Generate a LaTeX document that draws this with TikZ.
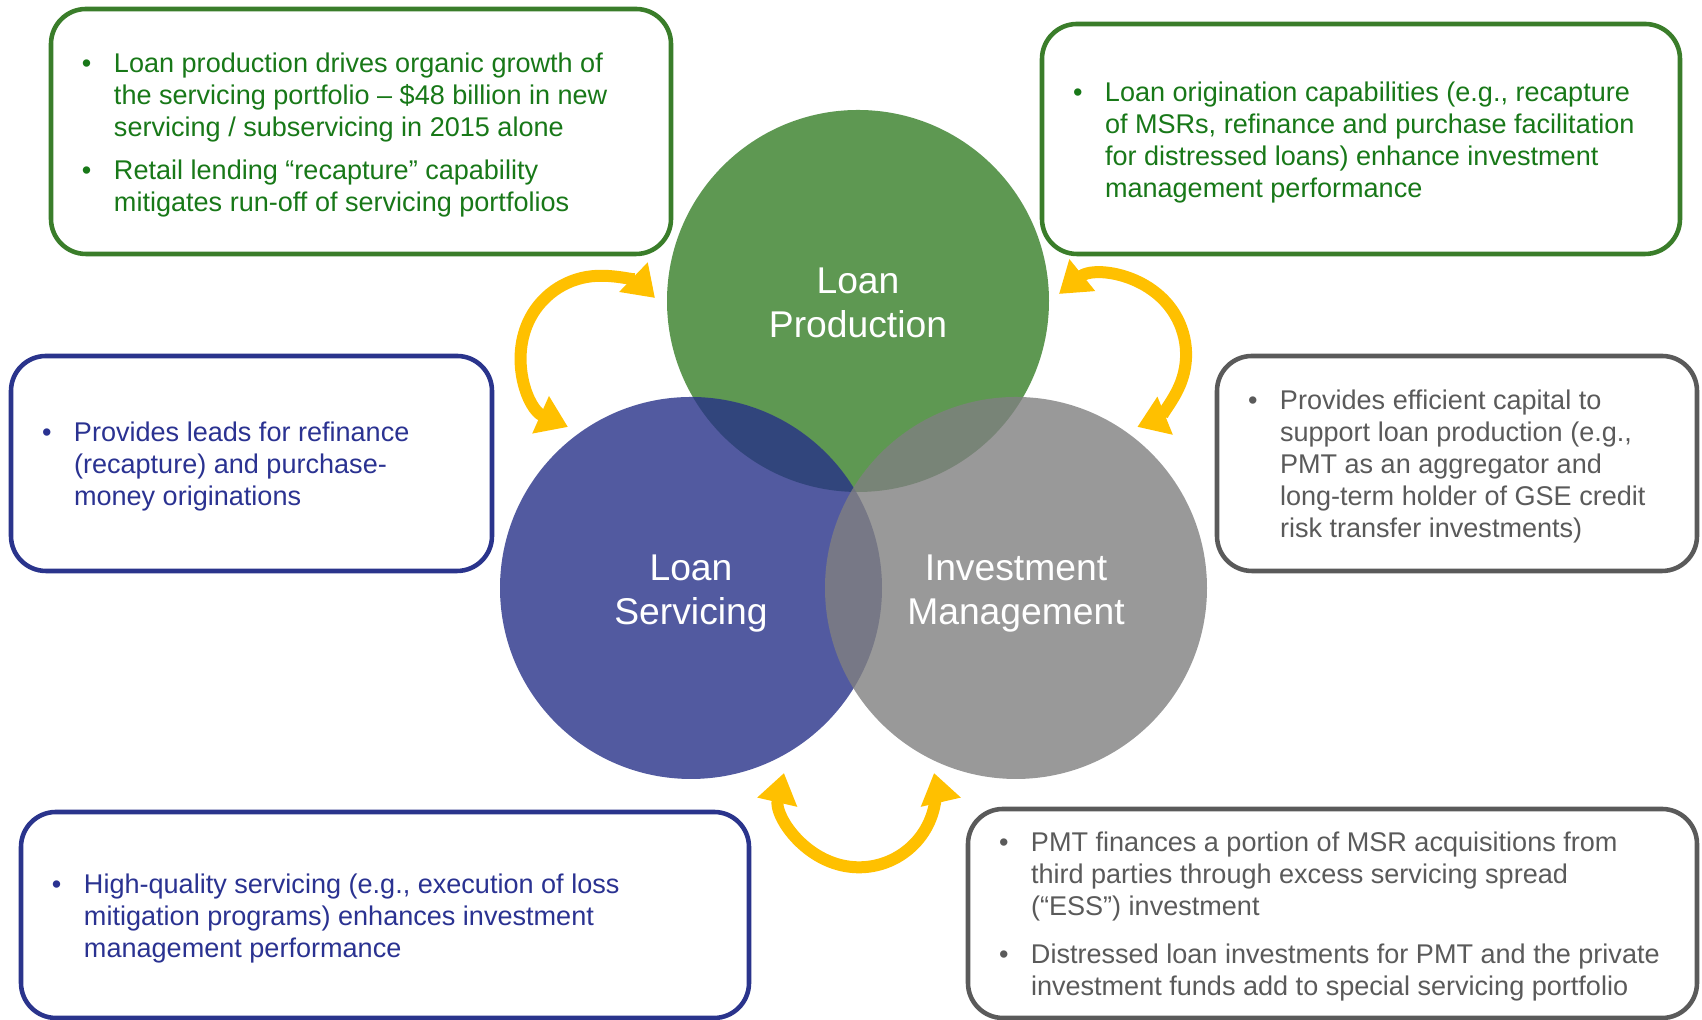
\documentclass[tikz,border=0pt]{standalone}
\usepackage{fontspec}
\setmainfont{Liberation Sans}
\usetikzlibrary{arrows.meta}

\definecolor{verde}{RGB}{54,126,39}
\definecolor{azul}{RGB}{39,49,136}
\definecolor{gris}{RGB}{128,128,128}
\definecolor{bordeverde}{RGB}{58,125,42}
\definecolor{textoverde}{RGB}{24,120,24}
\definecolor{bordeazul}{RGB}{42,52,140}
\definecolor{textoazul}{RGB}{42,50,145}
\definecolor{bordegris}{RGB}{90,90,90}
\definecolor{textogris}{RGB}{90,90,90}
\definecolor{amarillo}{RGB}{255,192,0}

% lista con vinetas de ancho fijo
\newcommand{\lista}[2]{\raisebox{-0.04cm}[\height][\depth]{\makebox[#1][l]{\begin{tabular}{@{}p{0.32cm}@{}l@{}}#2\end{tabular}}}}

\begin{document}
\begin{tikzpicture}[
	circulo/.style={circle, minimum size=3.82cm, inner sep=0pt, fill opacity=0.8, text opacity=1, text=white, align=center, text height=21pt, text depth=0pt, font=\fontsize{10.6pt}{12.7pt}\selectfont},
	caja/.style={draw, line width=1.3pt, rounded corners=0.35cm, inner xsep=0.31cm, inner ysep=0pt, font=\fontsize{7.7pt}{9.1pt}\selectfont},
	cajaverde/.style={caja, draw=bordeverde, text=textoverde},
	cajaazul/.style={caja, draw=bordeazul, text=textoazul},
	cajagris/.style={caja, draw=bordegris, text=textogris},
	flecha/.style={draw=amarillo, line width=0.12cm, {Triangle[width=0.39cm,length=0.3cm]}-{Triangle[width=0.39cm,length=0.3cm]}}
]
	\useasboundingbox (0,0) rectangle (17.02,10.2);
	
	% los tres circulos
	\node[circulo, fill=verde] (lp) at (8.58,7.19) {Loan\\Production};
	\node[circulo, fill=azul] (ls) at (6.91,4.32) {Loan\\Servicing};
	\node[circulo, fill=gris] (im) at (10.16,4.32) {Investment\\Management};
	
	% flechas amarillas
	\coordinate (f1) at (5.68,5.93);
	\coordinate (f2) at (10.59,7.26);
	\coordinate (f3) at (7.84,2.47);
	\draw[flecha] (f1) arc[start angle=246, end angle=46, radius=0.79];
	\draw[flecha] (f2) arc[start angle=129, end angle=-68, radius=0.78];
	\draw[flecha] (f3) arc[start angle=167, end angle=373, radius=0.77];
	
	% cajas de texto
	\node[cajaverde, minimum width=6.2cm, minimum height=2.45cm] (crecimiento) at (3.61,8.885) {\lista{5.58cm}{%
		\textbullet & Loan production drives organic growth of\\
		& the servicing portfolio – \$48 billion in new\\
		& servicing / subservicing in 2015 alone\\[3pt]
		\textbullet & Retail lending “recapture” capability\\
		& mitigates run-off of servicing portfolios}};
	\node[cajaverde, minimum width=6.38cm, minimum height=2.3cm] (originacion) at (13.61,8.81) {\lista{5.76cm}{%
		\textbullet & Loan origination capabilities (e.g., recapture\\
		& of MSRs, refinance and purchase facilitation\\
		& for distressed loans) enhance investment\\
		& management performance}};
	\node[cajaazul, minimum width=4.81cm, minimum height=2.15cm] (refinanciar) at (2.515,5.565) {\lista{4.19cm}{%
		\textbullet & Provides leads for refinance\\
		& (recapture) and purchase-\\
		& money originations}};
	\node[cajagris, minimum width=4.8cm, minimum height=2.15cm] (capital) at (14.57,5.565) {\lista{4.18cm}{%
		\textbullet & Provides efficient capital to\\
		& support loan production (e.g.,\\
		& PMT as an aggregator and\\
		& long-term holder of GSE credit\\
		& risk transfer investments)}};
	\node[cajaazul, minimum width=7.28cm, minimum height=2.06cm] (calidad) at (3.85,1.05) {\lista{6.66cm}{%
		\textbullet & High-quality servicing (e.g., execution of loss\\
		& mitigation programs) enhances investment\\
		& management performance}};
	\node[cajagris, minimum width=7.29cm, minimum height=2.09cm] (financia) at (13.325,1.065) {\lista{6.67cm}{%
		\textbullet & PMT finances a portion of MSR acquisitions from\\
		& third parties through excess servicing spread\\
		& (“ESS”) investment\\[4.5pt]
		\textbullet & Distressed loan investments for PMT and the private\\
		& investment funds add to special servicing portfolio}};
\end{tikzpicture}
\end{document}
